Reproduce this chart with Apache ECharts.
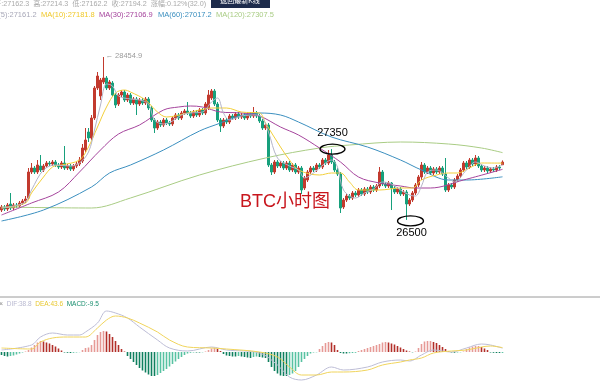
<!DOCTYPE html>
<html><head><meta charset="utf-8">
<script src="https://cdn.jsdelivr.net/npm/echarts@6/dist/echarts.min.js"></script>
<style>html,body{margin:0;padding:0;background:#fff}#c{width:600px;height:383px}</style>
</head><body><div id="c"></div>
<script>
// [open, close, low, high]
const ohlc = [
[26619,26655,26595,26679],[26655,26631,26607,26679],[26631,26679,26607,26703],[26691,26643,26619,26823],
[26643,26679,26619,26703],[26679,26667,26643,26703],[26667,26703,26643,26727],[26703,26727,26679,26751],
[26727,26751,26703,26787],[26763,27075,26751,27123],[27075,27123,27051,27183],[27123,27075,27051,27147],
[27075,27159,27051,27219],[27147,27099,27075,27279],[27099,27147,27075,27171],[27147,27183,27123,27207],
[27183,27171,27147,27207],[27171,27195,27147,27219],[27195,27159,27135,27219],[27159,27135,27111,27183],
[27135,27183,27111,27207],[27183,27123,27099,27387],[27123,27147,27099,27171],[27147,27111,27087,27171],
[27111,27147,27087,27171],[27147,27171,27123,27195],[27171,27219,27147,27255],[27207,27363,27183,27411],
[27339,27459,27315,27603],[27555,27483,27435,27603],[27483,27723,27459,27759],[27723,28083,27699,28107],
[28083,28227,28059,28275],[27987,28179,27939,28203],[28155,28203,28131,28454.9],[28203,28083,28059,28227],
[28083,28155,28059,28179],[28143,27999,27975,28167],[27999,27879,27843,28023],[27891,27999,27867,28023],
[27999,28035,27975,28059],[28035,27939,27915,28059],[27939,27999,27915,28023],[27999,27903,27879,28023],
[27903,27951,27879,27975],[27951,27891,27759,27975],[27891,27939,27867,27963],[27939,27903,27879,27963],
[27903,27951,27879,27975],[27951,27843,27819,27975],[27843,27699,27675,27867],[27699,27603,27543,27723],
[27603,27675,27579,27699],[27675,27639,27615,27699],[27639,27699,27615,27723],[27699,27663,27639,27723],
[27663,27651,27627,27687],[27651,27723,27627,27747],[27723,27759,27699,27783],[27759,27723,27699,27783],
[27723,27783,27699,27807],[27783,27807,27759,27831],[27807,27783,27759,27915],[27783,27747,27723,27807],
[27747,27795,27723,27819],[27795,27759,27735,27819],[27759,27819,27735,27843],[27819,27783,27759,27843],
[27783,27891,27759,27915],[27843,27999,27819,28059],[27963,28047,27939,28071],[28047,27891,27867,28071],
[27891,27699,27675,27915],[27699,27627,27555,27723],[27627,27699,27603,27723],[27699,27675,27651,27723],
[27675,27747,27651,27771],[27747,27723,27699,27771],[27723,27771,27699,27795],[27771,27735,27711,27795],
[27735,27759,27711,27783],[27759,27723,27699,27783],[27723,27771,27699,27795],[27771,27747,27723,27795],
[27747,27783,27723,27855],[27783,27747,27723,27807],[27747,27687,27663,27771],[27687,27603,27579,27711],
[27603,27639,27579,27663],[27639,27159,27135,27663],[27159,27075,27039,27183],[27075,27195,27051,27219],
[27195,27147,27123,27219],[27147,27183,27123,27207],[27183,27123,27099,27207],[27123,27183,27099,27207],
[27183,27099,27075,27207],[27099,27159,27075,27183],[27159,27075,27051,27183],[27075,27123,27051,27147],
[27123,26859,26811,27147],[26883,27003,26859,27027],[26979,27075,26955,27099],[27075,27123,27051,27147],
[27123,27099,27075,27147],[27099,27159,27075,27183],[27159,27135,27111,27183],[27135,27219,27111,27243],
[27219,27183,27159,27243],[27183,27279,27159,27339],[27279,27195,27171,27350],[27195,27099,27075,27219],
[27099,27051,27027,27123],[27051,26643,26583,27075],[26655,26739,26631,26763],[26739,26787,26715,26811],
[26787,26763,26739,26811],[26763,26823,26739,26847],[26823,26799,26775,26847],[26799,26859,26775,26883],
[26859,26811,26787,26883],[26811,26871,26787,26895],[26871,26835,26811,26895],[26835,26895,26811,26919],
[26895,26859,26835,26919],[26859,26907,26835,26931],[26907,27075,26883,27135],[27075,26931,26907,27099],
[26931,26907,26883,26955],[26907,26943,26883,26967],[26943,26883,26619,26955],[26883,26835,26811,26907],
[26835,26871,26811,26895],[26871,26811,26787,26895],[26811,26835,26787,26859],[26835,26691,26500,26859],
[26691,26739,26667,26763],[26739,26823,26715,26847],[26823,26919,26799,26943],[26919,27015,26895,27039],
[27015,27159,26979,27195],[27159,27075,27051,27183],[27075,27123,27051,27147],[27123,27063,27039,27147],
[27063,27111,27039,27135],[27111,27075,27051,27135],[27075,27123,27051,27147],[27123,27051,27027,27147],
[27051,26859,26835,27243],[26859,26919,26835,26943],[26919,26895,26871,26943],[26895,26979,26871,27003],
[26979,27027,26955,27051],[27027,27099,27003,27123],[27099,27183,27075,27207],[27183,27135,27111,27207],
[27135,27219,27111,27243],[27219,27171,27147,27243],[27171,27243,27147,27279],[27243,27147,27123,27267],
[27147,27099,27075,27171],[27099,27123,27075,27147],[27123,27087,27063,27147],[27087,27111,27063,27135],
[27111,27099,27075,27135],[27099,27135,27075,27159],[27135,27123,27099,27159],[27162.3,27194.2,27162.2,27214.3]
];
// moving averages: [candle index, value]
const ma5 = [[0,26643],[4,26667],[8,26715],[10,26859],[14,27099],[18,27159],[23,27147],[26,27183],[29,27315],[31,27579],[33,27879],[35,28131],[37,28107],[39,27987],[43,27951],[46,27939],[49,27891],[51,27699],[54,27651],[57,27687],[60,27759],[63,27783],[67,27795],[70,27915],[72,27963],[74,27783],[76,27699],[80,27747],[85,27759],[87,27723],[89,27555],[92,27243],[96,27147],[99,27099],[101,27003],[104,27063],[108,27183],[110,27219],[112,27135],[114,26859],[118,26763],[121,26823],[124,26871],[127,26955],[130,26931],[133,26859],[136,26799],[138,26787],[140,26907],[142,27075],[145,27099],[149,27003],[151,26955],[155,27099],[158,27195],[161,27147],[164,27123],[167,27161.2]];
const ma10 = [[0,26643],[8,26703],[10,26823],[14,27015],[17,27135],[20,27159],[26,27219],[29,27375],[32,27615],[35,27855],[38,28023],[41,28059],[43,28035],[48,27939],[52,27795],[55,27735],[62,27783],[66,27819],[70,27843],[75,27843],[80,27795],[86,27783],[88,27663],[93,27375],[96,27219],[99,27099],[106,27039],[110,27063],[113,27063],[116,26955],[119,26859],[126,26859],[133,26883],[137,26883],[140,26979],[145,27039],[149,27063],[152,27063],[156,27123],[160,27183],[167,27181.8]];
const ma30 = [[0,26559],[10,26703],[19,26835],[26,27075],[33,27339],[39,27531],[46,27639],[54,27819],[59,27855],[63,27867],[67,27855],[73,27795],[80,27783],[86,27747],[93,27615],[99,27519],[106,27363],[113,27195],[119,27015],[126,26943],[133,26907],[138,26883],[143,26883],[154,26979],[167,27106.9]];
const ma60 = [[0,26487],[14,26619],[30,26895],[36,27063],[43,27159],[54,27339],[66,27567],[73,27663],[78,27735],[86,27783],[93,27759],[99,27675],[110,27495],[122,27375],[133,27219],[140,27099],[149,26979],[155,26979],[167,27017.2]];
const ma120 = [[0,26655],[30,26643],[43,26763],[66,27039],[88,27243],[106,27363],[116,27399],[133,27435],[149,27411],[160,27363],[167,27307.5]];
// MACD histogram, one value per candle
const macdBars = [
-30,-40,-45,-40,-35,-25,-15,-5,5,
20,45,70,95,110,105,95,85,70,55,35,15,
-5,-8,-10,-8,-5,-2,
20,40,45,
70,120,170,200,210,205,180,150,110,70,30,
5,
-40,-70,-100,-130,-160,-185,-205,-225,-240,-240,-230,-210,-190,-170,-145,-120,-95,-70,-50,-30,-15,
-8,-5,-5,-5,-3,5,
20,35,40,30,10,
-20,-35,-40,-45,-45,-40,-45,-50,-55,-60,-50,-45,-50,-55,-60,
-100,-150,-190,-215,-235,-240,-240,-230,-215,-190,-150,
-100,-70,-40,
-15,-5,-3,
30,60,90,100,95,70,
20,
-10,-15,-15,-12,-10,-8,
10,20,30,40,50,60,70,80,95,100,95,85,75,60,45,30,15,5,
-3,5,
40,80,105,110,110,100,90,70,50,30,10,
-5,-8,-5,-3,5,
30,45,55,60,60,50,35,20,
-5,-8,-10,-10,-9.5
];
const dif = [[0,20],[10,70],[13,150],[17,190],[22,170],[26,170],[28,200],[32,290],[35,410],[38,390],[42,340],[46,250],[52,120],[56,40],[62,10],[70,50],[75,20],[86,-10],[92,-130],[96,-250],[100,-280],[105,-230],[110,-150],[114,-180],[122,-150],[127,-100],[133,-80],[136,-90],[140,-30],[144,20],[150,0],[155,40],[160,80],[163,70],[167,38.8]];
const dea = [[0,40],[10,30],[13,100],[17,140],[22,150],[26,150],[28,150],[32,240],[35,320],[38,360],[42,340],[46,290],[52,200],[56,120],[62,50],[70,40],[75,30],[86,0],[92,-50],[96,-150],[100,-230],[105,-230],[110,-200],[114,-200],[122,-180],[127,-130],[133,-100],[136,-80],[140,-60],[144,-10],[150,10],[155,20],[160,50],[163,60],[167,43.6]];
const categories = ohlc.map((_, i) => 'K' + (i + 1));

const chart = echarts.init(document.getElementById('c'));
const RED = '#c23a2e', GREEN = '#17a07c';
const FONT = '"Liberation Sans", "Noto Sans CJK SC", sans-serif';
function line(name, data, color, w, xi, yi) {
  return {name, type:'line', xAxisIndex:xi, yAxisIndex:yi, data, showSymbol:false, smooth:0.35,
    lineStyle:{color, width:w}, itemStyle:{color}, z:5, silent:true};
}
chart.setOption({
  animation:false,
  grid:[{left:0,right:96,top:30,height:260},{left:0,right:96,top:306,height:77}],
  xAxis:[{type:'category',gridIndex:0,data:categories,show:false},
         {type:'category',gridIndex:1,data:categories,show:false}],
  yAxis:[{type:'value',gridIndex:0,min:25659,max:28779,show:false},
         {type:'value',gridIndex:1,min:-310,max:460,show:false}],
  series:[
    {type:'candlestick', xAxisIndex:0, yAxisIndex:0, data:ohlc, barWidth:2,
     itemStyle:{color:RED,color0:GREEN,borderColor:RED,borderColor0:GREEN,borderWidth:1}},
    line('MA120', ma120, '#a9cc84', 1, 0, 0),
    line('MA60', ma60, '#3b8fbf', 1, 0, 0),
    line('MA30', ma30, '#a5449c', 1, 0, 0),
    line('MA10', ma10, '#f2cf3a', 1, 0, 0),
    line('MA5', ma5, '#b4b4c8', 1, 0, 0),
    {type:'bar', xAxisIndex:1, yAxisIndex:1, data:macdBars, barWidth:1.6,
     itemStyle:{color:p => {
       const v = p.value, pv = p.dataIndex > 0 ? macdBars[p.dataIndex-1] : v;
       if (v >= 0) return v >= pv ? '#e69a96' : '#b3302a';
       return v <= pv ? '#10805f' : '#58c2a2';
     }}},
    line('DIF', dif, '#bdbdd6', 1, 1, 1),
    line('DEA', dea, '#f0d45c', 1, 1, 1)
  ]
});

function px(i, v){ return chart.convertToPixel({xAxisIndex:0, yAxisIndex:0}, [i, v]); }
const pHigh = px(34, 28454.9), p1 = px(110, 27350), p2 = px(135, 26500);
const g = [];
function txt(x, y, s, color, size, align){ g.push({type:'text', x, y, style:{text:s, fill:color, font:(size||7.5)+'px '+FONT, align:align||'left', verticalAlign:'middle'}, z:20}); }
// header line 1
txt(-6, 4, '开:27162.3  高:27214.3  低:27162.2  收:27194.2  涨幅:0.12%(32.0)', '#aaa', 7.2);
g.push({type:'rect', shape:{x:211,y:-3,width:59,height:11}, style:{fill:'#1d2b4b'}, z:21});
g.push({type:'text', x:240, y:1, style:{text:'返回最新K线', fill:'#fff', font:'7px '+FONT, align:'center', verticalAlign:'middle'}, z:22});
// header line 2
txt(-13, 15, 'MA(5):27161.2', '#a8a8b8');
txt(41, 15, 'MA(10):27181.8', '#f0c828');
txt(99, 15, 'MA(30):27106.9', '#a5449c');
txt(158, 15, 'MA(60):27017.2', '#3b8fbf');
txt(216, 15, 'MA(120):27307.5', '#a9cc84');
// MACD header
g.push({type:'line', shape:{x1:0,y1:297,x2:600,y2:297}, style:{stroke:'#9a9a9a', lineWidth:1}, z:20});
g.push({type:'text', x:-1, y:304, z:20, style:{
  text:'{x|×}  {a|DIF:38.8}  {b|DEA:43.6}  {c|MACD:-9.5}', verticalAlign:'middle',
  font:'6.5px '+FONT,
  rich:{x:{fill:'#888', font:'7px '+FONT}, a:{fill:'#b8b8d0', font:'6.5px '+FONT},
        b:{fill:'#e8c830', font:'6.5px '+FONT}, c:{fill:'#1a8f6f', font:'6.5px '+FONT}}}});
// annotations
txt(pHigh[0] + 2, pHigh[1] - 1, '← 28454.9', '#9a9a9a', 7.5);
g.push({type:'ellipse', shape:{cx:p1[0]+1, cy:p1[1], rx:12.5, ry:5}, style:{fill:null, stroke:'#000', lineWidth:1.3}, z:20});
txt(p1[0]+1, p1[1]-16, '27350', '#000', 11, 'center');
g.push({type:'ellipse', shape:{cx:p2[0]+4, cy:p2[1]+1, rx:13, ry:5}, style:{fill:null, stroke:'#000', lineWidth:1.3}, z:20});
txt(p2[0]+5, p2[1]+13, '26500', '#000', 11, 'center');
txt(285, 202, 'BTC小时图', '#c8161d', 18, 'center');
chart.setOption({graphic:g});
</script></body></html>
